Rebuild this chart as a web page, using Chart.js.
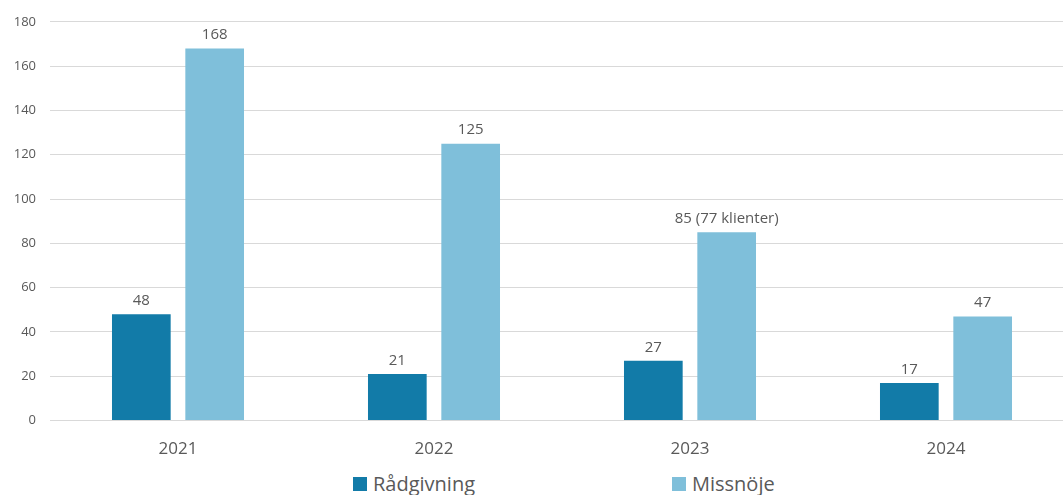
<!DOCTYPE html>
<html>
<head>
<meta charset="utf-8">
<script src="https://cdn.jsdelivr.net/npm/chart.js@4/dist/chart.umd.min.js"></script>
<style>
  body { margin: 0; background: #fff; font-family: "Open Sans", sans-serif; }
  #wrap { position: relative; width: 1063px; height: 495px; overflow: hidden; }
  #wrap canvas { position: absolute; left: 0; top: 0; }
  #legend { position: absolute; left: 0; top: 470px; width: 1063px; height: 25px; }
  .item { position: absolute; top: 0; display: flex; align-items: center; font-size: 20px; color: #595959; }
  .box { width: 14px; height: 14px; margin-right: 6px; }
</style>
</head>
<body>
<div id="wrap">
  <canvas id="myChart" width="1074" height="469"></canvas>
  <div id="legend"></div>
</div>
<script>
const years = ['2021', '2022', '2023', '2024'];
const seriesNames = ['Rådgivning', 'Missnöje'];
const radgivning = [48, 21, 27, 17];
const missnoje = [168, 125, 85, 47];
const missnojeLabels = ['168', '125', '85 (77 klienter)', '47'];
const radgivningLabels = ['48', '21', '27', '17'];
const yTicks = [0, 20, 40, 60, 80, 100, 120, 140, 160, 180];

const colors = ['#127ba8', '#7fbfda'];
const textColor = '#595959';

// simple value labels above the bars
const barLabels = {
  id: 'barLabels',
  afterDatasetsDraw(chart) {
    const ctx = chart.ctx;
    ctx.save();
    ctx.font = '15px "Open Sans", sans-serif';
    ctx.fillStyle = textColor;
    ctx.textAlign = 'center';
    ctx.textBaseline = 'bottom';
    chart.data.datasets.forEach((ds, i) => {
      chart.getDatasetMeta(i).data.forEach((bar, j) => {
        ctx.fillText(ds.labelsText[j], bar.x, bar.y - 6);
      });
    });
    ctx.restore();
  }
};

const myChart = new Chart(document.getElementById('myChart'), {
  type: 'bar',
  data: {
    labels: years,
    datasets: [
      { label: seriesNames[0], data: radgivning, labelsText: radgivningLabels, backgroundColor: colors[0] },
      { label: seriesNames[1], data: missnoje, labelsText: missnojeLabels, backgroundColor: colors[1] }
    ]
  },
  options: {
    responsive: false,
    animation: false,
    layout: { padding: { top: 11, right: 0 } },
    categoryPercentage: 0.573,
    barPercentage: 0.8,
    plugins: {
      legend: { display: false },
      tooltip: { enabled: false }
    },
    scales: {
      x: {
        grid: { display: false },
        border: { display: true, color: '#d9d9d9', width: 1 },
        ticks: { color: textColor, font: { size: 17, family: '"Open Sans", sans-serif' }, padding: 10 }
      },
      y: {
        min: 0,
        max: 180,
        afterBuildTicks(axis) { axis.ticks = yTicks.map(v => ({ value: v })); },
        afterFit(axis) { axis.width = 50; },
        grid: { color: '#d9d9d9', drawTicks: false },
        border: { display: false },
        ticks: { color: textColor, font: { size: 13, family: '"Open Sans", sans-serif' }, padding: 14 }
      }
    }
  },
  plugins: [barLabels]
});

// legend below the chart
const legend = document.getElementById('legend');
const legendX = [353, 672];
seriesNames.forEach((name, i) => {
  const item = document.createElement('div');
  item.className = 'item';
  item.style.left = legendX[i] + 'px';
  item.innerHTML = '<span class="box" style="background:' + colors[i] + '"></span>' + name;
  legend.appendChild(item);
});
</script>
</body>
</html>
